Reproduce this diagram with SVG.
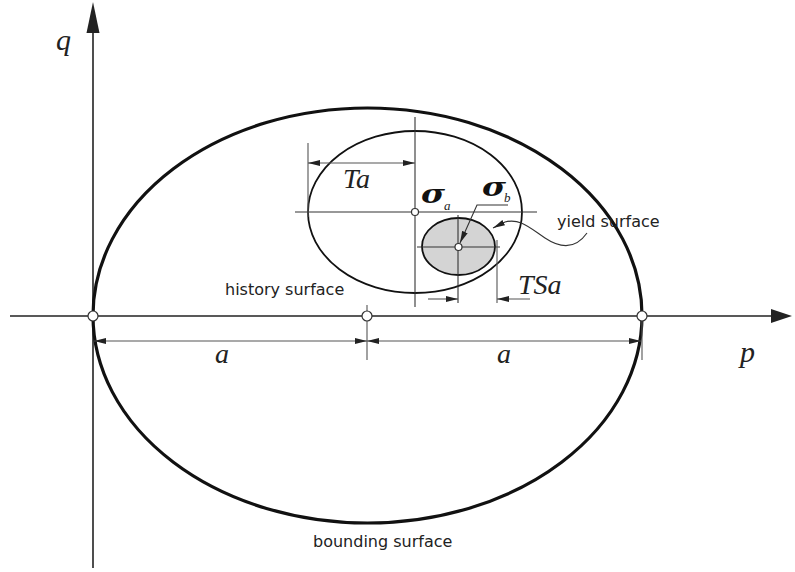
<svg xmlns="http://www.w3.org/2000/svg" width="795" height="572" viewBox="0 0 795 572">
<style>
.axis{stroke:#222;stroke-width:1.6;fill:none}
.thin{stroke:#333;stroke-width:1.1;fill:none}
.dim{stroke:#555;stroke-width:1.1;fill:none}
.math{font-family:"Liberation Serif",serif;font-style:italic;fill:#222}
.sig{font-family:"DejaVu Serif","Liberation Serif",serif;font-style:italic;font-weight:bold;fill:#111}
.lbl{font-family:"DejaVu Sans",sans-serif;font-size:16px;fill:#222}
.pt{fill:#fff;stroke:#333;stroke-width:1.2}
</style>
<defs>
<marker id="ah" viewBox="0 0 12 6" refX="12" refY="3" markerWidth="12" markerHeight="6" markerUnits="userSpaceOnUse" orient="auto-start-reverse">
<path d="M0,0 L12,3 L0,6 z" fill="#222"/>
</marker>
</defs>
<rect width="795" height="572" fill="#fff"/>
<g id="axes">
<line class="axis" x1="93" y1="568" x2="93" y2="20"/>
<polygon points="93,2 86.5,33 99.5,33" fill="#222"/>
<line class="axis" x1="10" y1="316" x2="775" y2="316"/>
<polygon points="792,316 771,309 771,323" fill="#222"/>
<text class="math" x="56" y="50" font-size="30">q</text>
<text class="math" x="740" y="362" font-size="30">p</text>
</g>
<g id="bounding">
<ellipse cx="367.5" cy="315.5" rx="274.5" ry="207.5" fill="none" stroke="#111" stroke-width="3.2"/>
<text class="lbl" x="313" y="547">bounding surface</text>
</g>
<g id="history">
<ellipse cx="415" cy="212" rx="107" ry="81" fill="none" stroke="#111" stroke-width="1.8"/>
<text class="lbl" x="225" y="295">history surface</text>
</g>
<g id="yield">
<ellipse cx="458.5" cy="246.5" rx="36.5" ry="28.5" fill="#d4d4d4" stroke="#111" stroke-width="1.8"/>
<text class="lbl" x="557" y="227">yield surface</text>
</g>
<g id="connectors">
<line class="thin" x1="415" y1="117" x2="415" y2="307"/>
<line class="thin" x1="295" y1="212" x2="537" y2="212"/>
<line class="thin" x1="417" y1="247" x2="500" y2="247"/>
<line class="thin" x1="458" y1="215" x2="458" y2="303"/>
<line class="dim" x1="308" y1="143" x2="308" y2="217"/>
<line class="dim" x1="308" y1="163" x2="415" y2="163" marker-start="url(#ah)" marker-end="url(#ah)"/>
<line class="dim" x1="367" y1="305" x2="367" y2="360"/>
<line class="dim" x1="642" y1="316" x2="642" y2="360"/>
<line class="dim" x1="94" y1="341" x2="367" y2="341" marker-start="url(#ah)" marker-end="url(#ah)"/>
<line class="dim" x1="367" y1="341" x2="641" y2="341" marker-start="url(#ah)" marker-end="url(#ah)"/>
<line class="dim" x1="497" y1="240" x2="497" y2="303"/>
<line class="dim" x1="428" y1="299" x2="458" y2="299" marker-end="url(#ah)"/>
<line class="dim" x1="530" y1="299" x2="497" y2="299" marker-end="url(#ah)"/>
<polyline class="thin" points="508,205 477,205 460,243" marker-end="url(#ah)"/>
<path class="thin" d="M587,233 C575,250 560,248 545,238 C530,228 520,218 505,222 L493,228" marker-end="url(#ah)"/>
</g>
<g id="labels">
<text class="math" x="343" y="188" font-size="28">Ta</text>
<text class="math" x="518" y="294" font-size="28">TSa</text>
<text class="math" x="215" y="363" font-size="28">a</text>
<text class="math" x="497" y="363" font-size="28">a</text>
<text class="sig" x="421" y="203" font-size="26" textLength="24" lengthAdjust="spacingAndGlyphs">σ</text>
<text class="math" x="444" y="210" font-size="13">a</text>
<text class="sig" x="482" y="196" font-size="26" textLength="24" lengthAdjust="spacingAndGlyphs">σ</text>
<text class="math" x="504" y="202" font-size="13">b</text>
</g>
<g id="points">
<circle class="pt" cx="93" cy="316" r="5"/>
<circle class="pt" cx="367" cy="316" r="5"/>
<circle class="pt" cx="642" cy="316" r="5"/>
<circle class="pt" cx="415" cy="212" r="3.5"/>
<circle class="pt" cx="458.5" cy="247" r="3.5"/>
</g>
</svg>
